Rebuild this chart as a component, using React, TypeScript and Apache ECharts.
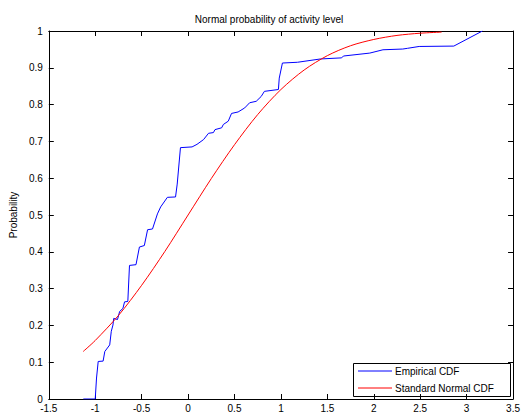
import React, { useEffect, useRef } from "react";
import * as echarts from "echarts";

// Empirical CDF of the standardized activity level (x, cumulative probability)
const empiricalX = [
  -1.128, -1.0, -0.986, -0.968, -0.915, -0.897, -0.844, -0.827, -0.809, -0.801,
  -0.76, -0.737, -0.702, -0.684, -0.649, -0.631, -0.561, -0.524, -0.471, -0.436,
  -0.383, -0.33, -0.295, -0.223, -0.135, -0.117, -0.082, 0.043, 0.096, 0.167,
  0.22, 0.273, 0.29, 0.362, 0.38, 0.433, 0.468, 0.539, 0.61, 0.663, 0.734, 0.787,
  0.822, 0.973, 0.982, 1.016, 1.178, 1.426, 1.654, 1.673, 1.957, 2.099, 2.312,
  2.365, 2.489, 2.862, 3.17,
];
const empiricalY = [
  0, 0, 0.057, 0.102, 0.103, 0.129, 0.147, 0.184, 0.201, 0.219,
  0.216, 0.238, 0.246, 0.264, 0.265, 0.363, 0.365, 0.413, 0.417, 0.46,
  0.462, 0.503, 0.522, 0.548, 0.549, 0.584, 0.683, 0.685, 0.692, 0.705,
  0.722, 0.724, 0.732, 0.737, 0.746, 0.755, 0.776, 0.78, 0.791, 0.805, 0.809, 0.822,
  0.836, 0.841, 0.872, 0.913, 0.915, 0.924, 0.927, 0.932, 0.94, 0.949, 0.951,
  0.953, 0.958, 0.959, 1.0,
];

// Standard normal CDF over the observed range
const normalX = [
  -1.13, -1.0, -0.75, -0.5, -0.25, 0, 0.25, 0.5, 0.75, 1.0, 1.25, 1.5, 1.75, 2.0,
  2.25, 2.5, 2.73,
];
const normalY = [
  0.129, 0.159, 0.227, 0.309, 0.401, 0.5, 0.599, 0.691, 0.773, 0.841, 0.894, 0.933,
  0.96, 0.977, 0.988, 0.994, 0.997,
];

const legendLabels = ["Empirical CDF", "Standard Normal CDF"];
const titleText = "Normal probability of activity level";
const yLabel = "Probability";

const FONT = "Liberation Sans, Arial, sans-serif";

export default function App() {
  const ref = useRef<HTMLDivElement>(null);

  useEffect(() => {
    if (!ref.current) return;
    const chart = echarts.init(ref.current, undefined, { renderer: "svg" });

    const axisCommon = {
      type: "value" as const,
      axisLine: { show: true, onZero: false, lineStyle: { color: "#000", width: 1 } },
      axisTick: { show: true, inside: true, length: 5, lineStyle: { color: "#000" } },
      splitLine: { show: false },
    };
    const labelStyle = { color: "#000", fontSize: 10, fontFamily: FONT };

    chart.setOption({
      animation: false,
      backgroundColor: "#fff",
      grid: { left: 45, top: 31, width: 470, height: 370, containLabel: false },
      xAxis: [
        {
          ...axisCommon,
          position: "bottom",
          min: -1.5,
          max: 3.5,
          interval: 0.5,
          axisLabel: { ...labelStyle, margin: 4 },
        },
        {
          ...axisCommon,
          position: "top",
          min: -1.5,
          max: 3.5,
          interval: 0.5,
          axisLabel: { show: false },
        },
      ],
      yAxis: [
        {
          ...axisCommon,
          position: "left",
          min: 0,
          max: 1,
          interval: 0.1,
          axisLabel: { ...labelStyle, margin: 6 },
          name: yLabel,
          nameLocation: "middle",
          nameGap: 28,
          nameRotate: 90,
          nameTextStyle: { ...labelStyle },
        },
        {
          ...axisCommon,
          position: "right",
          min: 0,
          max: 1,
          interval: 0.1,
          axisLabel: { show: false },
        },
      ],
      series: [
        {
          name: legendLabels[0],
          type: "line",
          xAxisIndex: 0,
          yAxisIndex: 0,
          data: empiricalX.map((x, i) => [x, empiricalY[i]]),
          showSymbol: false,
          lineStyle: { color: "#0000ff", width: 1 },
          itemStyle: { color: "#0000ff" },
        },
        {
          name: legendLabels[1],
          type: "line",
          xAxisIndex: 0,
          yAxisIndex: 0,
          data: normalX.map((x, i) => [x, normalY[i]]),
          showSymbol: false,
          smooth: 0.3,
          lineStyle: { color: "#ff0000", width: 1 },
          itemStyle: { color: "#ff0000" },
        },
      ],
      graphic: [
        {
          type: "text",
          x: 269,
          y: 19,
          style: {
            text: titleText,
            fill: "#000",
            font: `10px ${FONT}`,
            textAlign: "center",
            textVerticalAlign: "middle",
          },
        },
        {
          type: "group",
          z: 100,
          children: [
            {
              type: "rect",
              shape: { x: 353.5, y: 363.5, width: 157, height: 33 },
              style: { fill: "#fff", stroke: "#000", lineWidth: 1 },
            },
            {
              type: "line",
              shape: { x1: 358, y1: 371, x2: 392, y2: 371 },
              style: { stroke: "#0000ff", lineWidth: 1 },
            },
            {
              type: "text",
              x: 395,
              y: 371,
              style: {
                text: legendLabels[0],
                fill: "#000",
                font: `10px ${FONT}`,
                textVerticalAlign: "middle",
              },
            },
            {
              type: "line",
              shape: { x1: 358, y1: 388, x2: 392, y2: 388 },
              style: { stroke: "#ff0000", lineWidth: 1 },
            },
            {
              type: "text",
              x: 395,
              y: 388,
              style: {
                text: legendLabels[1],
                fill: "#000",
                font: `10px ${FONT}`,
                textVerticalAlign: "middle",
              },
            },
          ],
        },
      ],
    });

    return () => chart.dispose();
  }, []);

  return <div ref={ref} style={{ width: 523, height: 413, position: "absolute", left: 0, top: 0 }} />;
}
